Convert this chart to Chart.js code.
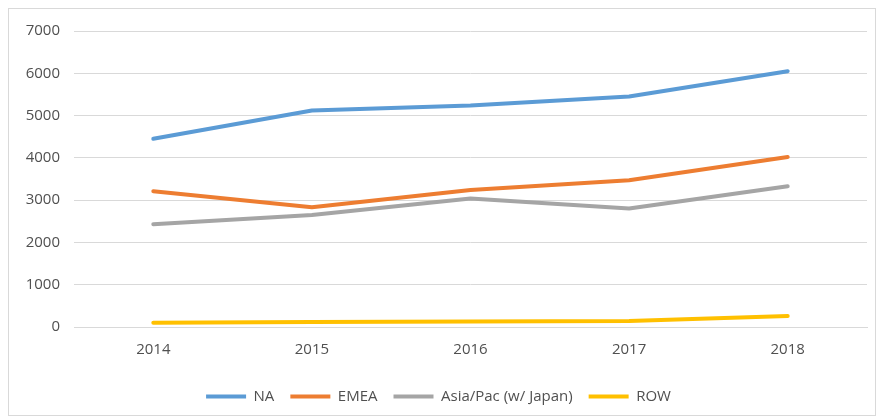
<!DOCTYPE html>
<html>
<head>
<meta charset="utf-8">
<script src="https://cdn.jsdelivr.net/npm/chart.js@4/dist/chart.umd.min.js"></script>
<style>
  html, body { margin: 0; padding: 0; background: #fff; }
  #frame { position: absolute; left: 8px; top: 8px; width: 868px; height: 408px; border: 1px solid #d9d9d9; box-sizing: border-box; }
  #wrap { position: absolute; left: 0; top: 0; width: 877px; height: 418px; }
</style>
</head>
<body>
<div id="frame"></div>
<div id="wrap"><canvas id="c" width="877" height="418"></canvas></div>
<script>
const categories = ["2014", "2015", "2016", "2017", "2018"];
const seriesNames = ["NA", "EMEA", "Asia/Pac (w/ Japan)", "ROW"];
const naValues = [4450, 5120, 5240, 5450, 6050];
const emeaValues = [3210, 2830, 3240, 3470, 4020];
const asiaValues = [2430, 2650, 3040, 2800, 3330];
const rowValues = [100, 120, 130, 140, 260];
const yTicks = [0, 1000, 2000, 3000, 4000, 5000, 6000, 7000];

const colors = ["#5B9BD5", "#ED7D31", "#A5A5A5", "#FFC000"];
const allValues = [naValues, emeaValues, asiaValues, rowValues];

const datasets = seriesNames.map((name, i) => ({
  label: name,
  data: allValues[i],
  borderColor: colors[i],
  backgroundColor: colors[i],
  borderWidth: 4,
  pointRadius: 0,
  pointHoverRadius: 0,
  tension: 0,
  fill: false,
  borderCapStyle: 'round',
  borderJoinStyle: 'round'
}));

const fontFamily = "'Open Sans', 'Liberation Sans', sans-serif";
const textColor = '#505050';

new Chart(document.getElementById('c'), {
  type: 'line',
  data: { labels: categories, datasets: datasets },
  options: {
    responsive: false,
    animation: false,
    devicePixelRatio: 1,
    layout: { padding: { left: 10, right: 10, top: 31, bottom: 4 } },
    plugins: {
      legend: {
        position: 'bottom',
        labels: {
          boxWidth: 40,
          boxHeight: 4,
          padding: 16,
          color: textColor,
          font: { family: fontFamily, size: 15 },
          generateLabels(chart) {
            return chart.data.datasets.map((ds, i) => ({
              text: ds.label,
              fillStyle: ds.borderColor,
              strokeStyle: ds.borderColor,
              lineWidth: 0,
              hidden: false,
              datasetIndex: i,
              fontColor: textColor
            }));
          }
        }
      },
      tooltip: { enabled: false }
    },
    scales: {
      x: {
        offset: true,
        grid: { display: false, drawTicks: false },
        border: { display: true, color: '#d9d9d9' },
        ticks: { color: textColor, font: { family: fontFamily, size: 15 }, padding: 14 }
      },
      y: {
        min: 0,
        max: 7000,
        afterBuildTicks(axis) { axis.ticks = yTicks.map(v => ({ value: v })); },
        afterFit(axis) { axis.width = 64; },
        grid: { color: '#d9d9d9', drawTicks: false, lineWidth: 1 },
        border: { display: false },
        ticks: {
          color: textColor,
          font: { family: fontFamily, size: 15 },
          padding: 14,
          callback: (v) => String(v)
        }
      }
    }
  }
});
</script>
</body>
</html>
